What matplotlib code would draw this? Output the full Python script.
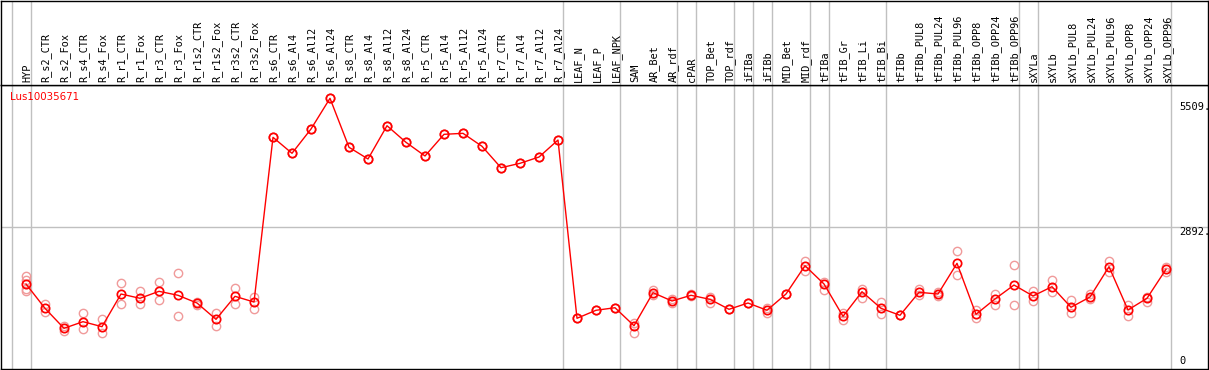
import matplotlib
matplotlib.use("Agg")
import matplotlib.pyplot as plt
import numpy as np

gene = "Lus10035671"

samples = [
    "HYP", "R_s2_CTR", "R_s2_Fox", "R_s4_CTR", "R_s4_Fox", "R_r1_CTR", "R_r1_Fox",
    "R_r3_CTR", "R_r3_Fox", "R_r1s2_CTR", "R_r1s2_Fox", "R_r3s2_CTR", "R_r3s2_Fox",
    "R_s6_CTR", "R_s6_Al4", "R_s6_Al12", "R_s6_Al24", "R_s8_CTR", "R_s8_Al4",
    "R_s8_Al12", "R_s8_Al24", "R_r5_CTR", "R_r5_Al4", "R_r5_Al12", "R_r5_Al24",
    "R_r7_CTR", "R_r7_Al4", "R_r7_Al12", "R_r7_Al24", "LEAF_N", "LEAF_P", "LEAF_NPK",
    "SAM", "AR_Bet", "AR_rdf", "cPAR", "TOP_Bet", "TOP_rdf", "iFIBa", "iFIBb",
    "MID_Bet", "MID_rdf", "tFIBa", "tFIB_Gr", "tFIB_Li", "tFIB_Bi", "tFIBb",
    "tFIBb_PUL8", "tFIBb_PUL24", "tFIBb_PUL96", "tFIBb_OPP8", "tFIBb_OPP24",
    "tFIBb_OPP96", "sXYLa", "sXYLb", "sXYLb_PUL8", "sXYLb_PUL24", "sXYLb_PUL96",
    "sXYLb_OPP8", "sXYLb_OPP24", "sXYLb_OPP96",
]

# mean expression per sample
means = [
    1730, 1235, 828, 963, 861, 1526, 1439, 1581, 1500, 1343, 1011, 1479, 1363,
    4715, 4390, 4884, 5509, 4512, 4274, 4951, 4613, 4335, 4776, 4796, 4532,
    4096, 4186, 4314, 4660, 1032, 1195, 1247,
    881, 1553, 1384, 1500, 1418, 1215, 1343, 1195,
    1526, 2102, 1730, 1072, 1573, 1235, 1093,
    1561, 1526, 2151, 1113, 1425, 1709,
    1486, 1675, 1256, 1465, 2082, 1201, 1439, 2029,
]

# replicate values (upper / lower)
rep_hi = [
    1893, 1323, 885, 1146, 1018, 1744, 1587, 1770, 1954, 1363, 1146, 1648, 1459,
    4715, 4390, 4884, 5509, 4512, 4274, 4951, 4613, 4335, 4776, 4796, 4532,
    4096, 4186, 4314, 4660, 1032, 1195, 1247,
    936, 1608, 1425, 1520, 1471, 1215, 1343, 1241,
    1526, 2204, 1777, 1148, 1628, 1370, 1093,
    1628, 1573, 2407, 1201, 1526, 2110,
    1593, 1811, 1404, 1520, 2192, 1296, 1470, 2082,
]
rep_lo = [
    1587, 1154, 773, 820, 727, 1317, 1317, 1398, 1072, 1302, 881, 1317, 1221,
    4715, 4390, 4884, 5509, 4512, 4274, 4951, 4613, 4335, 4776, 4796, 4532,
    4096, 4186, 4314, 4660, 1032, 1195, 1247,
    727, 1506, 1349, 1480, 1349, 1215, 1343, 1133,
    1526, 2000, 1608, 997, 1451, 1125, 1093,
    1506, 1479, 1913, 1032, 1302, 1296,
    1390, 1561, 1133, 1425, 1980, 1085, 1370, 1980,
]
extra_reps = {"HYP": [1811, 1628]}

# gray separators are drawn after these sample indices
group_ends = [-1, 0, 28, 31, 34, 35, 37, 38, 39, 41, 42, 45, 52, 53, 60]

y_max = 5509
y_mid = 2892

W, H = 1209, 370
RED = "#ff0000"
PINK = "#f09a9a"
GRID = "#c0c0c0"

fig = plt.figure(figsize=(W / 100, H / 100), dpi=100)

# pixel layout -> axes limits
px_left, px_right = 1, 1208
px_top_plot, px_bottom = 85, 369
x0_px, dx_px = 26, 19
val_per_px = y_max / 270.7

xlim = ((px_left - x0_px) / dx_px, (px_right - x0_px) / dx_px)

ax = fig.add_axes([px_left / W, (H - px_bottom) / H,
                   (px_right - px_left) / W, (px_bottom - px_top_plot) / H])
ax_lab = fig.add_axes([px_left / W, (H - px_top_plot) / H,
                       (px_right - px_left) / W, (px_top_plot - 0.5) / H], sharex=ax)

ax.set_xlim(*xlim)
ax.set_ylim(0, (px_bottom - px_top_plot) * val_per_px)
ax_lab.set_ylim(0, 1)

for a in (ax, ax_lab):
    a.set_xticks([])
    a.set_yticks([])
    for s in a.spines.values():
        s.set_linewidth(1.0)
        s.set_color("black")
    for g in group_ends:
        a.axvline(g + 0.24, color=GRID, lw=1.0, zorder=0)

ax.axhline(y_mid, color=GRID, lw=1.0, zorder=0)

x = np.arange(len(samples))
ms = 6.0
for reps in (rep_hi, rep_lo):
    ax.plot(x, reps, ls="none", marker="o", ms=ms, mfc="none", mec=PINK,
            mew=1.0, zorder=2)
for name, vals in extra_reps.items():
    i = samples.index(name)
    ax.plot([i] * len(vals), vals, ls="none", marker="o", ms=ms, mfc="none",
            mec=PINK, mew=1.0, zorder=2)
ax.plot(x, means, color=RED, lw=1.0, marker="o", ms=ms, mfc="none", mec=RED,
        mew=1.25, zorder=3)

# sample labels
for i, name in enumerate(samples):
    ax_lab.text(i + 0.05, 0.03, name, rotation=90, ha="center", va="bottom",
                family="DejaVu Sans Mono", fontsize=7.4, color="black")

# right-side scale labels
xr = (1179 - x0_px) / dx_px
ax.text(xr, y_max - 4 * val_per_px, f"{y_max}.", ha="left", va="top",
        fontsize=7.5, family="DejaVu Sans Mono")
ax.text(xr, y_mid, f"{y_mid}.", ha="left", va="top", fontsize=7.5,
        family="DejaVu Sans Mono")
ax.text(xr, 0 + 3 * val_per_px, "0", ha="left", va="bottom", fontsize=7.5,
        family="DejaVu Sans Mono")

ax.text((10 - x0_px) / dx_px, (px_bottom - 97) * val_per_px, gene, color=RED,
        ha="left", va="center", fontsize=7.4)

fig.savefig("out.png", dpi=100)
